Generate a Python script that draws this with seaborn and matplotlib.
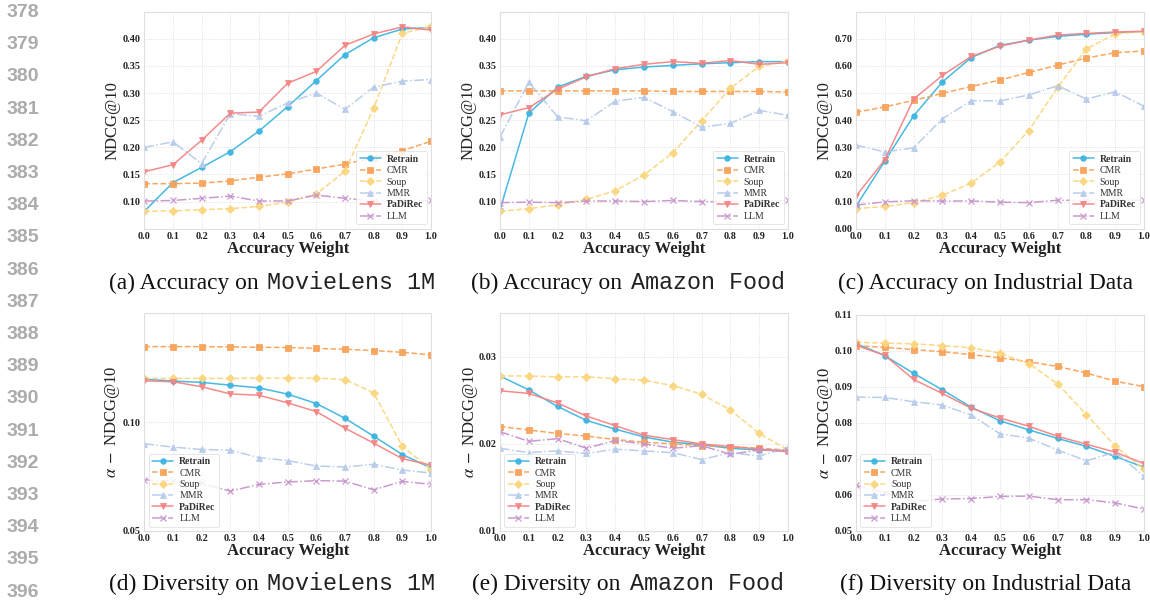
import numpy as np
import pandas as pd
import matplotlib
matplotlib.use("Agg")
import matplotlib.pyplot as plt
import seaborn as sns

# ---- data -------------------------------------------------------------
weights = [0.0, 0.1, 0.2, 0.3, 0.4, 0.5, 0.6, 0.7, 0.8, 0.9, 1.0]
methods = ["Retrain", "CMR", "Soup", "MMR", "PaDiRec", "LLM"]

# (a) accuracy, MovieLens 1M
ml_acc_retrain = [0.082, 0.135, 0.163, 0.192, 0.230, 0.275, 0.323, 0.371, 0.402, 0.418, 0.421]
ml_acc_cmr = [0.133, 0.133, 0.134, 0.138, 0.145, 0.151, 0.160, 0.169, 0.181, 0.194, 0.211]
ml_acc_soup = [0.082, 0.083, 0.085, 0.087, 0.091, 0.099, 0.114, 0.156, 0.272, 0.410, 0.423]
ml_acc_mmr = [0.200, 0.210, 0.170, 0.262, 0.257, 0.282, 0.300, 0.270, 0.311, 0.322, 0.325]
ml_acc_padirec = [0.155, 0.168, 0.213, 0.263, 0.265, 0.318, 0.340, 0.388, 0.409, 0.422, 0.416]
ml_acc_llm = [0.101, 0.102, 0.106, 0.110, 0.101, 0.101, 0.112, 0.106, 0.101, 0.102, 0.102]

# (b) accuracy, Amazon Food
az_acc_retrain = [0.085, 0.263, 0.311, 0.331, 0.343, 0.348, 0.351, 0.354, 0.356, 0.358, 0.358]
az_acc_cmr = [0.304, 0.304, 0.304, 0.304, 0.304, 0.304, 0.303, 0.303, 0.303, 0.303, 0.302]
az_acc_soup = [0.082, 0.087, 0.094, 0.104, 0.120, 0.149, 0.190, 0.249, 0.309, 0.349, 0.359]
az_acc_mmr = [0.219, 0.320, 0.256, 0.249, 0.285, 0.292, 0.266, 0.237, 0.244, 0.268, 0.259]
az_acc_padirec = [0.260, 0.273, 0.307, 0.330, 0.345, 0.353, 0.358, 0.355, 0.360, 0.353, 0.356]
az_acc_llm = [0.098, 0.099, 0.098, 0.101, 0.101, 0.100, 0.102, 0.100, 0.100, 0.101, 0.102]

# (c) accuracy, Industrial Data
in_acc_retrain = [0.083, 0.249, 0.416, 0.541, 0.631, 0.676, 0.695, 0.709, 0.717, 0.723, 0.727]
in_acc_cmr = [0.429, 0.449, 0.473, 0.499, 0.524, 0.548, 0.576, 0.603, 0.629, 0.649, 0.655]
in_acc_soup = [0.074, 0.082, 0.096, 0.123, 0.168, 0.246, 0.362, 0.521, 0.663, 0.718, 0.727]
in_acc_mmr = [0.308, 0.283, 0.298, 0.405, 0.472, 0.471, 0.493, 0.527, 0.478, 0.505, 0.451]
in_acc_padirec = [0.120, 0.254, 0.478, 0.565, 0.635, 0.673, 0.695, 0.714, 0.720, 0.725, 0.728]
in_acc_llm = [0.087, 0.099, 0.103, 0.102, 0.102, 0.098, 0.096, 0.105, 0.104, 0.105, 0.105]

# (d) diversity, MovieLens 1M
ml_div_retrain = [0.1197, 0.1188, 0.1182, 0.1169, 0.1157, 0.1128, 0.1085, 0.1017, 0.0935, 0.0851, 0.0789]
ml_div_cmr = [0.1346, 0.1346, 0.1346, 0.1345, 0.1343, 0.1342, 0.1338, 0.1334, 0.1328, 0.1320, 0.1308]
ml_div_soup = [0.1200, 0.1200, 0.1200, 0.1200, 0.1202, 0.1202, 0.1202, 0.1195, 0.1134, 0.0889, 0.0782]
ml_div_mmr = [0.0900, 0.0885, 0.0874, 0.0871, 0.0837, 0.0823, 0.0798, 0.0794, 0.0806, 0.0780, 0.0766]
ml_div_padirec = [0.1189, 0.1185, 0.1162, 0.1129, 0.1123, 0.1088, 0.1048, 0.0972, 0.0903, 0.0832, 0.0802]
ml_div_llm = [0.0735, 0.0728, 0.0718, 0.0683, 0.0714, 0.0725, 0.0731, 0.0729, 0.0689, 0.0728, 0.0714]

# (e) diversity, Amazon Food
az_div_retrain = [0.0278, 0.0262, 0.0243, 0.0227, 0.0217, 0.0208, 0.0202, 0.0199, 0.0195, 0.0193, 0.0192]
az_div_cmr = [0.0220, 0.0216, 0.0212, 0.0209, 0.0205, 0.0202, 0.0200, 0.0198, 0.0197, 0.0195, 0.0193]
az_div_soup = [0.0278, 0.0278, 0.0277, 0.0277, 0.0275, 0.0273, 0.0267, 0.0257, 0.0239, 0.0212, 0.0193]
az_div_mmr = [0.0195, 0.0190, 0.0192, 0.0189, 0.0194, 0.0192, 0.0190, 0.0182, 0.0190, 0.0186, 0.0196]
az_div_padirec = [0.0261, 0.0258, 0.0247, 0.0232, 0.0221, 0.0210, 0.0205, 0.0200, 0.0197, 0.0194, 0.0191]
az_div_llm = [0.0214, 0.0203, 0.0206, 0.0195, 0.0204, 0.0200, 0.0195, 0.0198, 0.0188, 0.0193, 0.0192]

# (f) diversity, Industrial Data
in_div_retrain = [0.1021, 0.0987, 0.0938, 0.0892, 0.0844, 0.0806, 0.0781, 0.0757, 0.0735, 0.0707, 0.0677]
in_div_cmr = [0.1015, 0.1010, 0.1004, 0.0998, 0.0990, 0.0981, 0.0970, 0.0957, 0.0939, 0.0916, 0.0901]
in_div_soup = [0.1024, 0.1022, 0.1020, 0.1015, 0.1009, 0.0994, 0.0965, 0.0909, 0.0823, 0.0736, 0.0672]
in_div_mmr = [0.0872, 0.0871, 0.0859, 0.0850, 0.0822, 0.0770, 0.0758, 0.0725, 0.0695, 0.0719, 0.0652]
in_div_padirec = [0.1016, 0.0988, 0.0921, 0.0882, 0.0841, 0.0814, 0.0791, 0.0763, 0.0741, 0.0719, 0.0687]
in_div_llm = [0.0627, 0.0606, 0.0582, 0.0589, 0.0590, 0.0596, 0.0597, 0.0587, 0.0587, 0.0578, 0.0561]

captions = [
    ("(a) Accuracy on ", "MovieLens 1M"),
    ("(b) Accuracy on ", "Amazon Food"),
    ("(c) Accuracy on Industrial Data", ""),
    ("(d) Diversity on ", "MovieLens 1M"),
    ("(e) Diversity on ", "Amazon Food"),
    ("(f) Diversity on Industrial Data", ""),
]
line_numbers = list(range(378, 397))

# ---- styling ----------------------------------------------------------
sns.set_theme(style="whitegrid")
SERIF = "Liberation Serif"
plt.rcParams["font.family"] = [SERIF, "DejaVu Serif"]
plt.rcParams["mathtext.fontset"] = "stix"

colors = {"Retrain": "#3db5e2", "CMR": "#f9a35a", "Soup": "#fbd67e",
          "MMR": "#b7cbea", "PaDiRec": "#f48585", "LLM": "#c894cc"}
markers = {"Retrain": "o", "CMR": "s", "Soup": "D", "MMR": "^",
           "PaDiRec": "v", "LLM": "x"}
styles = {"Retrain": "-", "CMR": "--", "Soup": "--", "MMR": "-.",
          "PaDiRec": "-", "LLM": "-."}
msize = {"Retrain": 4, "CMR": 4, "Soup": 3.6, "MMR": 4, "PaDiRec": 4, "LLM": 4}

acc_label = "NDCG@10"
div_label = r"$\alpha\;-\;$NDCG@10"

panels = [
    dict(series=[ml_acc_retrain, ml_acc_cmr, ml_acc_soup, ml_acc_mmr, ml_acc_padirec, ml_acc_llm],
         ylim=(0.05, 0.45), yticks=np.arange(0.10, 0.401, 0.05), ylabel=acc_label,
         loc="lower right", pos=(144.3, 11.7, 431.0, 228.7), lab_x=-0.082),
    dict(series=[az_acc_retrain, az_acc_cmr, az_acc_soup, az_acc_mmr, az_acc_padirec, az_acc_llm],
         ylim=(0.05, 0.45), yticks=np.arange(0.10, 0.401, 0.05), ylabel=acc_label,
         loc="lower right", pos=(500.0, 11.7, 788.0, 228.7), lab_x=-0.080),
    dict(series=[in_acc_retrain, in_acc_cmr, in_acc_soup, in_acc_mmr, in_acc_padirec, in_acc_llm],
         ylim=(0.0, 0.80), yticks=np.arange(0.0, 0.701, 0.10), ylabel=acc_label,
         loc="lower right", pos=(856.0, 11.7, 1144.0, 228.7), lab_x=-0.080),
    dict(series=[ml_div_retrain, ml_div_cmr, ml_div_soup, ml_div_mmr, ml_div_padirec, ml_div_llm],
         ylim=(0.05, 0.1499), yticks=[0.05, 0.10], ylabel=div_label,
         loc="lower left", pos=(144.3, 313.3, 431.0, 531.0), lab_x=-0.078),
    dict(series=[az_div_retrain, az_div_cmr, az_div_soup, az_div_mmr, az_div_padirec, az_div_llm],
         ylim=(0.01, 0.035), yticks=[0.01, 0.02, 0.03], ylabel=div_label,
         loc="lower left", pos=(500.0, 313.3, 788.0, 531.0), lab_x=-0.069),
    dict(series=[in_div_retrain, in_div_cmr, in_div_soup, in_div_mmr, in_div_padirec, in_div_llm],
         ylim=(0.05, 0.11), yticks=np.arange(0.05, 0.1101, 0.01), ylabel=div_label,
         loc="lower left", pos=(856.0, 315.0, 1144.0, 531.0), lab_x=-0.073),
]

W, H = 1150, 604
fig = plt.figure(figsize=(W / 100, H / 100), dpi=100)

for p in panels:
    x0, y0, x1, y1 = p["pos"]
    ax = fig.add_axes([x0 / W, 1 - y1 / H, (x1 - x0) / W, (y1 - y0) / H])
    for name, vals in zip(methods, p["series"]):
        sns.lineplot(x=weights, y=vals, ax=ax, color=colors[name], marker=markers[name],
                     linestyle=styles[name], markersize=msize[name], linewidth=1.1,
                     markeredgewidth=0.6 if name != "LLM" else 0.9,
                     markeredgecolor=colors[name], alpha=0.95, label=name)
    ax.set_xlim(0, 1)
    ax.set_ylim(*p["ylim"])
    ax.set_xticks(weights)
    ax.set_xticklabels([f"{w:.1f}" for w in weights])
    ax.set_yticks(p["yticks"])
    ax.set_yticklabels([f"{v:.2f}" for v in p["yticks"]])
    ax.tick_params(axis="both", length=0, pad=2.5, labelsize=7.3, labelcolor="#222222")
    for lab in ax.get_xticklabels() + ax.get_yticklabels():
        lab.set_fontweight("bold")
    ax.grid(True, linestyle=":", linewidth=0.6, color="#d8d8d8")
    for s in ax.spines.values():
        s.set_color("#dedede")
        s.set_linewidth(0.8)
    ax.set_xlabel("Accuracy Weight", fontsize=12, fontweight="bold", color="#222222")
    ax.xaxis.set_label_coords(0.5, -0.055)
    ax.set_ylabel(p["ylabel"], fontsize=12, color="#222222")
    ax.yaxis.set_label_coords(p["lab_x"], 0.5)
    leg = ax.legend(loc=p["loc"], fontsize=7, frameon=True, labelspacing=0.25,
                    borderpad=0.35, handlelength=2.2, handletextpad=0.6,
                    borderaxespad=0.45, fancybox=True)
    leg.get_frame().set_edgecolor("#dcdcdc")
    leg.get_frame().set_linewidth(0.6)
    leg.get_frame().set_alpha(0.85)
    for t in leg.get_texts():
        t.set_color("#333333")
        if t.get_text() in ("Retrain", "PaDiRec"):
            t.set_fontweight("bold")

# captions: serif text followed by an optional monospace dataset name
renderer = fig.canvas.get_renderer()
cap_centers = [272.0, 628.0, 985.5]
cap_baselines = [289.0, 590.0]
for i, (prefix, name) in enumerate(captions):
    xc = cap_centers[i % 3] / W
    yb = 1 - cap_baselines[i // 3] / H
    t1 = fig.text(0, yb, prefix, fontsize=16.8, family=SERIF, ha="left", va="baseline",
                  color="#111111")
    w1 = t1.get_window_extent(renderer).width / W
    w2 = 0.0
    t2 = None
    gap = 3.0 / W
    if name:
        t2 = fig.text(0, yb, name, fontsize=16.8, family="Liberation Mono", ha="left",
                      va="baseline", color="#222222", fontweight="light")
        w2 = t2.get_window_extent(renderer).width / W + gap
    left = xc - (w1 + w2) / 2
    t1.set_x(left)
    if t2 is not None:
        t2.set_x(left + w1 + gap)

# margin line numbers
for k, num in enumerate(line_numbers):
    yc = 12.5 + k * 32.2
    fig.text(7 / W, 1 - yc / H, str(num), fontsize=14, family="Liberation Sans",
             fontweight="bold", color="#ababab", ha="left", va="center")

fig.savefig("out.png", dpi=100)
